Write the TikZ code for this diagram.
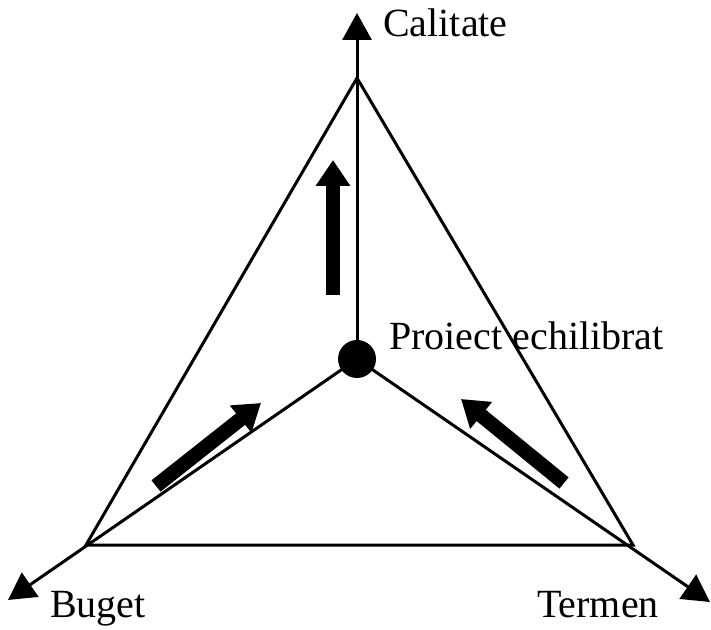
\documentclass[tikz,border=0pt]{standalone}
\usepackage{fontspec}
\setmainfont{Liberation Serif}
\usetikzlibrary{arrows.meta}
\begin{document}
\begin{tikzpicture}[x=1pt,y=1pt,
  edge/.style={line width=3pt},
  axis/.style={line width=3pt,-{Triangle[length=27pt,width=29pt]}},
  push/.style={line width=14.5pt,-{Triangle[length=26pt,width=33pt]}},
  lbl/.style={inner sep=0pt,anchor=base west,font=\fontsize{40}{48}\selectfont}]
\useasboundingbox (0,0) rectangle (711,629);
% balance point and triangle corners
\coordinate (c) at (357,270);
\coordinate (q) at (357,551);
\coordinate (b) at (86,84);
\coordinate (t) at (633,84);
% far ends of the three axes
\coordinate (qtip) at (357,616);
\coordinate (btip) at (8,29);
\coordinate (ttip) at (710,27);
% triangle
\draw[edge,line join=miter] (q) -- (b) -- (t) -- cycle;
% axes
\draw[axis] (c) -- (qtip);
\draw[axis] (c) -- (btip);
\draw[axis] (c) -- (ttip);
% balance point
\node[circle,fill=black,minimum size=38pt,inner sep=0pt] (dot) at (c) {};
% thick arrows pointing toward each corner
\coordinate (a1s) at (333,334);
\coordinate (a1e) at (333,469);
\coordinate (a2s) at (156,143);
\coordinate (a2e) at (261,226);
\coordinate (a3s) at (564,146);
\coordinate (a3e) at (461,230);
\draw[push] (a1s) -- (a1e);
\draw[push] (a2s) -- (a2e);
\draw[push] (a3s) -- (a3e);
% labels
\node[lbl] (lq) at (383,592) {Calitate};
\node[lbl] (lc) at (389,279) {Proiect echilibrat};
\node[lbl] (lb) at (50,12) {Buget};
\node[lbl] (lt) at (537,12) {Termen};
\end{tikzpicture}
\end{document}
